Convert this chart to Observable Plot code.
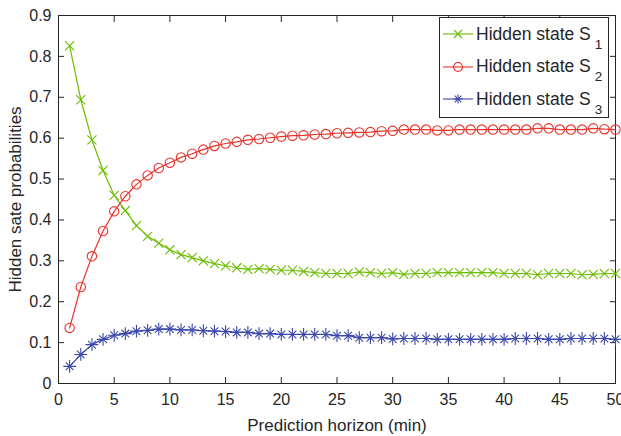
<!DOCTYPE html>
<html>
<head>
<meta charset="utf-8">
<script src="https://cdn.jsdelivr.net/npm/d3@7"></script>
<script src="https://cdn.jsdelivr.net/npm/@observablehq/plot@0.6"></script>
<style>
  html, body { margin: 0; padding: 0; background: white; }
  #wrap { position: relative; width: 621px; height: 436px; font-family: "Liberation Sans", Arial, sans-serif; color: #262626; }
  #legend { position: absolute; left: 439px; top: 17px; width: 168px; height: 99px; border: 1px solid #262626; background: white; }
  .row { position: absolute; left: 0; height: 30px; display: flex; align-items: center; font-size: 17.5px; white-space: nowrap; }
  .row svg { margin-left: 3px; margin-right: 3px; }
  .row sub { font-size: 13.5px; position: relative; top: 9px; vertical-align: baseline; margin-left: 4px; }
</style>
</head>
<body>
<div id="wrap"></div>
<script>
const horizon = d3.range(1, 51);
const s1 = [0.826,0.694,0.596,0.521,0.460,0.423,0.386,0.360,0.343,0.327,
            0.315,0.308,0.300,0.293,0.288,0.283,0.279,0.281,0.279,0.277,
            0.277,0.274,0.271,0.269,0.269,0.269,0.273,0.271,0.269,0.271,
            0.267,0.269,0.269,0.271,0.271,0.271,0.271,0.271,0.271,0.269,
            0.269,0.269,0.266,0.269,0.269,0.269,0.266,0.267,0.269,0.269];
const s2 = [0.136,0.236,0.311,0.373,0.421,0.458,0.487,0.509,0.527,0.540,
            0.553,0.562,0.572,0.581,0.587,0.591,0.596,0.598,0.601,0.604,
            0.606,0.607,0.609,0.610,0.612,0.613,0.614,0.615,0.617,0.618,
            0.621,0.621,0.621,0.619,0.619,0.621,0.621,0.621,0.621,0.621,
            0.621,0.621,0.624,0.624,0.621,0.621,0.621,0.624,0.622,0.621];
const s3 = [0.042,0.071,0.095,0.108,0.118,0.122,0.128,0.130,0.133,0.133,
            0.131,0.131,0.129,0.128,0.127,0.125,0.125,0.122,0.122,0.120,
            0.120,0.120,0.120,0.120,0.117,0.117,0.112,0.112,0.112,0.109,
            0.110,0.110,0.110,0.108,0.108,0.108,0.108,0.108,0.108,0.108,
            0.110,0.110,0.110,0.108,0.108,0.110,0.110,0.110,0.110,0.108];
const seriesNames = ["Hidden state S", "Hidden state S", "Hidden state S"];
const seriesSubs = ["1", "2", "3"];
const xTicks = [0,5,10,15,20,25,30,35,40,45,50];
const yTicks = [0,0.1,0.2,0.3,0.4,0.5,0.6,0.7,0.8,0.9];
const xLabel = "Prediction horizon (min)";
const yLabel = "Hidden sate probabilities";
const colors = ["#6cbd00", "#e8322a", "#3c48aa"];

const d1 = horizon.map((x, i) => ({x, y: s1[i]}));
const d2 = horizon.map((x, i) => ({x, y: s2[i]}));
const d3s = horizon.map((x, i) => ({x, y: s3[i]}));
const ink = "#262626";

const chart = Plot.plot({
  width: 621, height: 436,
  marginLeft: 58, marginRight: 6, marginTop: 15, marginBottom: 53,
  x: {domain: [0, 50]},
  y: {domain: [0, 0.9]},
  style: {fontFamily: "'Liberation Sans', Arial, sans-serif", fontSize: "16px", color: ink, background: "white", overflow: "visible"},
  marks: [
    Plot.axisX(xTicks, {anchor: "bottom", tickSize: 0, tickPadding: 10, label: null, fill: ink, fontSize: 16}),
    Plot.axisX(xTicks, {anchor: "bottom", tickSize: -6, tickFormat: () => "", label: null, stroke: ink}),
    Plot.axisX(xTicks, {anchor: "top", tickSize: -6, tickFormat: () => "", label: null, stroke: ink}),
    Plot.axisY(yTicks, {anchor: "left", tickSize: 0, tickPadding: 7, tickFormat: d => String(d), label: null, fill: ink, fontSize: 16}),
    Plot.axisY(yTicks, {anchor: "left", tickSize: -6, tickFormat: () => "", label: null, stroke: ink}),
    Plot.axisY(yTicks, {anchor: "right", tickSize: -6, tickFormat: () => "", label: null, stroke: ink}),
    Plot.text([xLabel], {frameAnchor: "bottom", textAnchor: "middle", lineAnchor: "middle", dy: 42, fontSize: 17, fill: ink}),
    Plot.text([yLabel], {frameAnchor: "left", rotate: -90, textAnchor: "middle", lineAnchor: "middle", dx: -43, fontSize: 17, fill: ink}),
    Plot.frame({stroke: ink, strokeWidth: 1}),
    Plot.line(d1, {x: "x", y: "y", stroke: colors[0], strokeWidth: 1.2}),
    Plot.dot(d1, {x: "x", y: "y", symbol: "times", r: 4.2, stroke: colors[0], strokeWidth: 1.1}),
    Plot.line(d2, {x: "x", y: "y", stroke: colors[1], strokeWidth: 1.2}),
    Plot.dot(d2, {x: "x", y: "y", symbol: "circle", r: 4.7, stroke: colors[1], fill: "none", strokeWidth: 1.1}),
    Plot.line(d3s, {x: "x", y: "y", stroke: colors[2], strokeWidth: 1.2}),
    Plot.dot(d3s, {x: "x", y: "y", symbol: "plus", r: 4.2, stroke: colors[2], strokeWidth: 1.1}),
    Plot.dot(d3s, {x: "x", y: "y", symbol: "times", r: 3.6, stroke: colors[2], strokeWidth: 1.1})
  ]
});

const wrap = document.getElementById("wrap");
wrap.appendChild(chart);

const legend = document.createElement("div");
legend.id = "legend";
const markerSvg = [
  '<line x1="-4" y1="-4" x2="4" y2="4"/><line x1="-4" y1="4" x2="4" y2="-4"/>',
  '<circle r="4.5" fill="none"/>',
  '<line x1="0" y1="-4.5" x2="0" y2="4.5"/><line x1="-4.5" y1="0" x2="4.5" y2="0"/><line x1="-3.3" y1="-3.3" x2="3.3" y2="3.3"/><line x1="-3.3" y1="3.3" x2="3.3" y2="-3.3"/>'
];
seriesNames.forEach((name, i) => {
  const row = document.createElement("div");
  row.className = "row";
  row.style.top = (1 + i * 32.5) + "px";
  row.innerHTML = `<svg width="30" height="14" viewBox="0 -7 30 14" style="overflow:visible"><g stroke="${colors[i]}" stroke-width="1.1"><line x1="0" y1="0" x2="30" y2="0"/><g transform="translate(15,0)">${markerSvg[i]}</g></g></svg><span>${name}<sub>${seriesSubs[i]}</sub></span>`;
  legend.appendChild(row);
});
wrap.appendChild(legend);
</script>
</body>
</html>
